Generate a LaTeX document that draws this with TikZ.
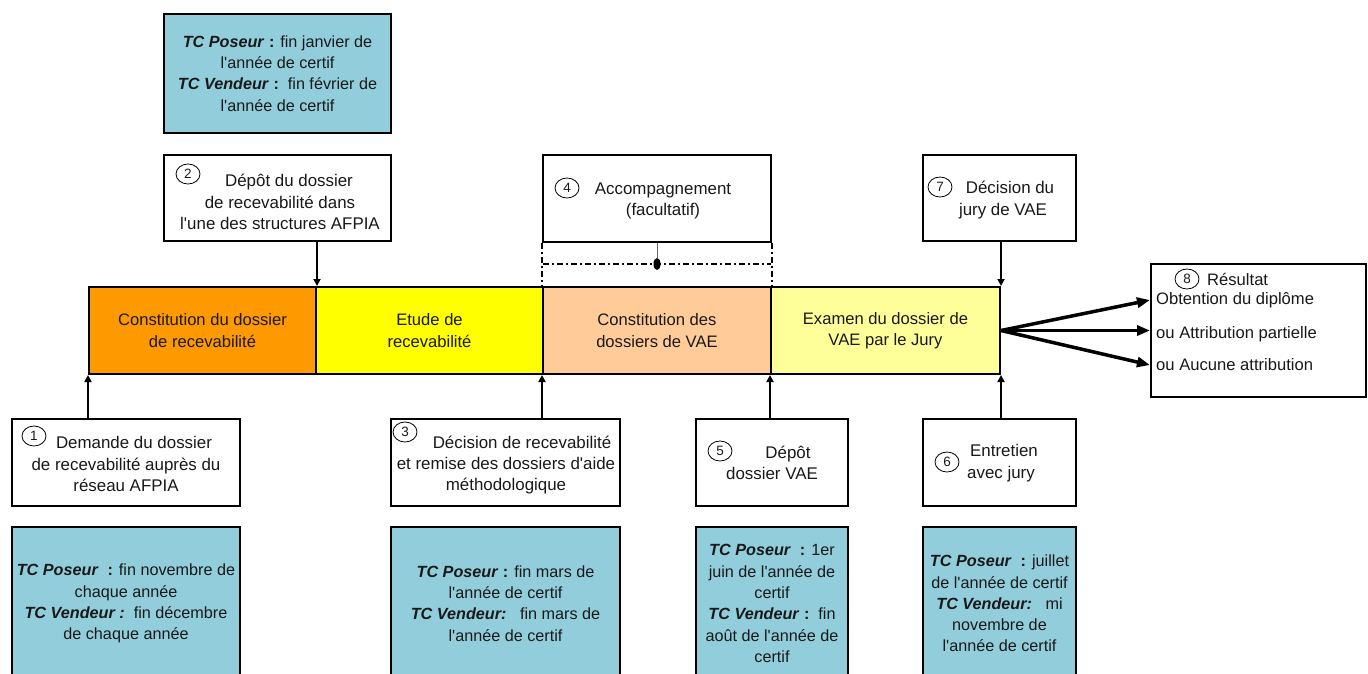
\documentclass[tikz,border=0pt]{standalone}
\usepackage{fontspec}
\setmainfont{Liberation Sans}[Ligatures=TeXOff]
\usetikzlibrary{arrows.meta,shapes.geometric}
\definecolor{tcblue}{HTML}{92CDDC}
\definecolor{orangeseg}{HTML}{FF9900}
\definecolor{yellowseg}{HTML}{FFFF00}
\definecolor{peachseg}{HTML}{FFCC99}
\definecolor{lightyel}{HTML}{FFFF99}
\newcommand\tcbi[1]{\textbf{\textit{#1}}}
\begin{document}
\begin{tikzpicture}[x=1pt,y=-1pt,
  every node/.style={font=\fontsize{16.6}{21.3}\selectfont, text=black!90},
  box/.style={draw, line width=2pt, fill=white, inner sep=0pt},
  bbox/.style={draw, line width=2pt, fill=tcblue, inner sep=0pt, align=center, font=\fontsize{16.2}{21.3}\selectfont},
  seg/.style={draw, line width=2pt, inner sep=0pt, minimum height=87pt, align=center},
  txt/.style={align=center, inner sep=0pt, font=\fontsize{16.9}{21.3}\selectfont},
  num/.style={draw, ellipse, line width=0.8pt, minimum width=24pt, minimum height=20pt, inner sep=0pt, font=\fontsize{13.5}{13.5}\selectfont},
  up/.style={line width=2.8pt, -{Triangle[length=7pt,width=7pt]}},
  res/.style={line width=3.5pt, -{Triangle[length=13pt,width=10pt]}},
  dd/.style={line width=1.2pt, dash pattern=on 6pt off 3pt on 2pt off 3pt}
]
\clip (0,0) rectangle (1368,673);
% bar segments
\node[seg, fill=orangeseg, minimum width=227pt] (s1) at (202.5,330.5) {Constitution du dossier\\de recevabilité};
\node[seg, fill=yellowseg, minimum width=227pt] (s2) at (429.5,330.5) {Etude de\\recevabilité};
\node[seg, fill=peachseg, minimum width=228pt] (s3) at (657,330.5) {Constitution des\\dossiers de VAE};
\node[seg, fill=lightyel, minimum width=229pt] (s4) at (885.5,330.5) {Examen du dossier de\\VAE par le Jury};

% top blue box
\node[bbox, minimum width=227pt, minimum height=119pt] (top) at (277.5,73.5)
  {\tcbi{TC Poseur}\textbf{ :} fin janvier de\\l'année de certif\\\tcbi{TC Vendeur}\textbf{ :}\ \ fin février de\\l'année de certif};

% upper step boxes
\node[box, minimum width=227pt, minimum height=86pt] (b2) at (277.5,198) {};
\node[txt] (t2) at (280,202) {\hspace*{18pt}Dépôt du dossier\\de recevabilité dans\\l'une des structures AFPIA};
\node[num] (n2) at (188,174) {2};

\node[box, minimum width=228pt, minimum height=87pt] (b4) at (657,198.5) {};
\node[txt] (t4) at (663,201) {Accompagnement\\(facultatif)};
\node[num] (n4) at (567,188) {4};

\node[box, minimum width=153pt, minimum height=86pt] (b7) at (999.5,198) {};
\node[txt] (t7) at (1003,200) {\hspace*{14pt}Décision du\\jury de VAE};
\node[num] (n7) at (940,187) {7};

% dash-dot zone under box 4
\coordinate (dl) at (543,264);
\coordinate (dr) at (771,264);
\draw[dd] (b4.south west) -- (s3.north west);
\draw[dd] (b4.south east) -- (s3.north east);
\draw[dd] (dl) -- (dr);
\node[ellipse, fill=black, minimum width=7pt, minimum height=12pt, inner sep=0pt] (dot) at (657,264) {};
\draw[black!60, line width=1pt] (b4.south) -- (dot.north);

% result box
\node[box, minimum width=215pt, minimum height=133pt] (b8) at (1258.5,330.5) {};
\node[num] (n8) at (1187,279) {8};
\node[anchor=west, inner sep=0pt] (r0) at (1207,279) {Résultat};
\node[anchor=west, inner sep=0pt] (r1) at (1156,300) {Obtention\ du\ diplôme};
\node[anchor=west, inner sep=0pt] (r2) at (1156,334) {ou Attribution\ partielle};
\node[anchor=west, inner sep=0pt] (r3) at (1156,365) {ou Aucune\ attribution};

% lower step boxes
\node[box, minimum width=228pt, minimum height=87pt] (b1) at (126,462.5) {};
\node[txt] (t1) at (126,464) {\hspace*{16pt}Demande du dossier\\de recevabilité auprès du\\réseau AFPIA};
\node[num] (n1) at (34,436) {1};

\node[box, minimum width=229pt, minimum height=87pt] (b3) at (505.5,462.5) {};
\node[txt] (t3) at (506,465) {\hspace*{32pt}Décision de recevabilité\\et remise des dossiers d'aide\\méthodologique};
\node[num] (n3) at (405,432) {3};

\node[box, minimum width=152pt, minimum height=87pt] (b5) at (772,462.5) {};
\node[txt] (t5) at (772,463) {\hspace*{32pt}Dépôt\\dossier VAE};
\node[num] (n5) at (720,451) {5};

\node[box, minimum width=153pt, minimum height=87pt] (b6) at (999.5,462.5) {};
\node[txt] (t6) at (1001,463) {\hspace*{6pt}Entretien\\avec jury};
\node[num] (n6) at (947,462) {6};

% bottom blue boxes
\node[bbox, minimum width=228pt, minimum height=153pt] (d1) at (126,603.5)
  {\tcbi{TC Poseur}\ \textbf{ :} fin novembre de\\chaque année\\\tcbi{TC Vendeur :}\ \ fin décembre\\de chaque année};
\node[bbox, minimum width=229pt, minimum height=153pt] (d3) at (505.5,603.5)
  {\tcbi{TC Poseur}\textbf{ :} fin mars de\\l'année de certif\\\tcbi{TC Vendeur:}\ \ \ fin mars de\\l'année de certif};
\node[bbox, minimum width=152pt, minimum height=153pt] (d5) at (772,603.5)
  {\tcbi{TC Poseur}\ \textbf{ :} 1er\\juin de l'année de\\certif\\\tcbi{TC Vendeur}\textbf{ :}\ \ fin\\août de l'année de\\certif};
\node[bbox, minimum width=153pt, minimum height=153pt] (d6) at (999.5,603.5)
  {\tcbi{TC Poseur}\ \textbf{ :} juillet\\de l'année de certif\\\tcbi{TC Vendeur:}\ \ \ mi\\novembre de\\l'année de certif};

% connectors
\draw[up] (b1.north -| s1.south west) -- (s1.south west);
\draw[up] (b2.south -| s1.north east) -- (s1.north east);
\draw[up] (b3.north -| s3.south west) -- (s3.south west);
\draw[up] (b5.north -| s4.south west) -- (s4.south west);
\draw[up] (b6.north -| s4.south east) -- (s4.south east);
\draw[up] (b7.south -| s4.north east) -- (s4.north east);

\draw[res] (s4.east) -- ([yshift=30.5pt]b8.west);
\draw[res] (s4.east) -- (b8.west);
\draw[res] (s4.east) -- ([yshift=-34.5pt]b8.west);
\end{tikzpicture}
\end{document}
